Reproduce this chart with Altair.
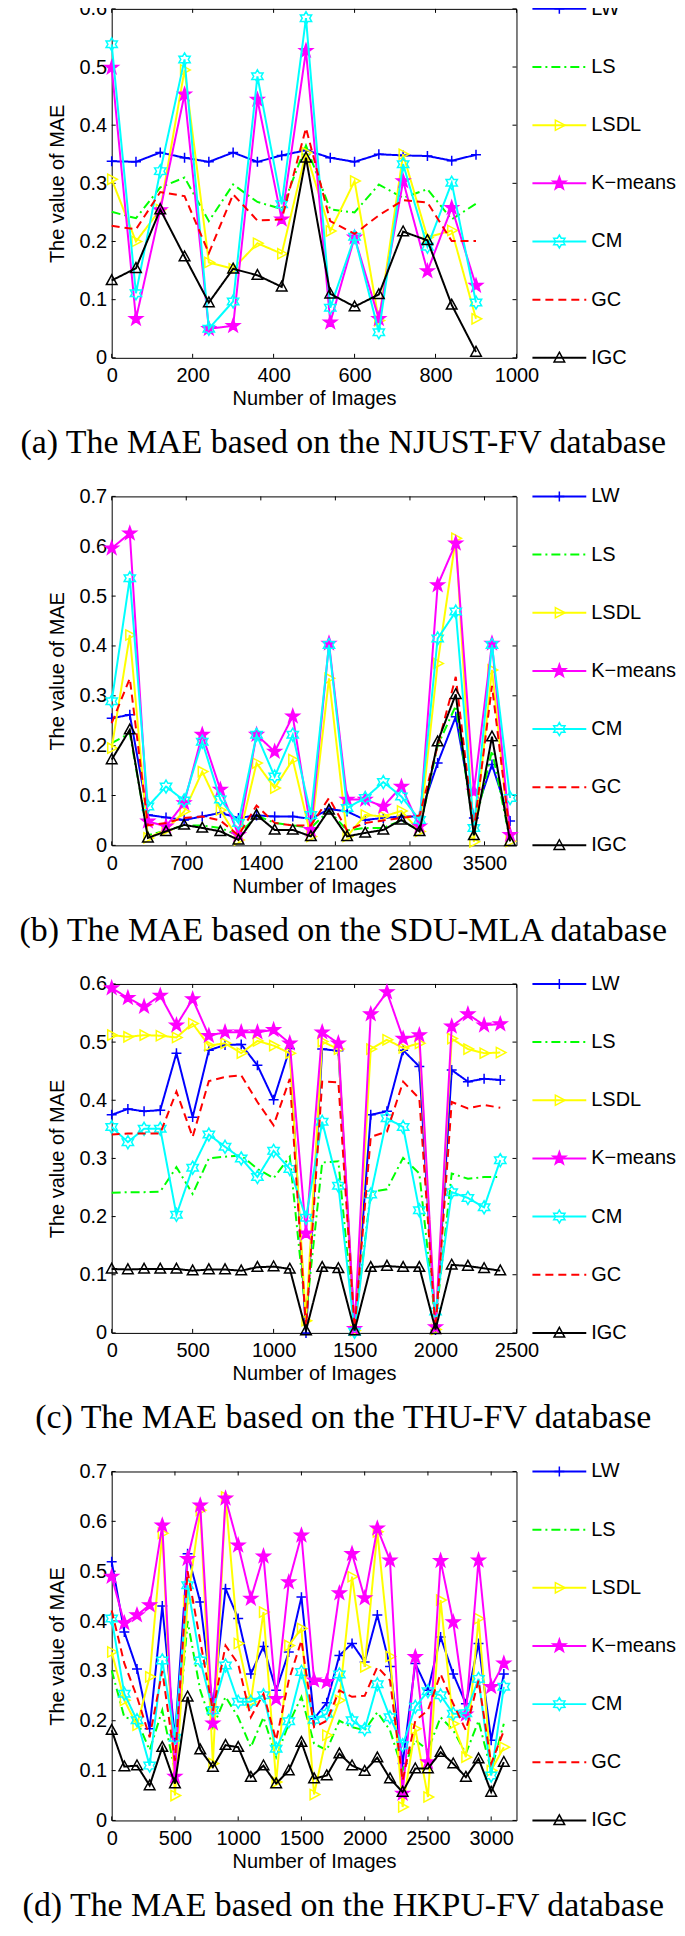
import math
import altair as alt
import pandas as pd

SERIES = ["LW", "LS", "LSDL", "K-means", "CM", "GC", "IGC"]
LEGEND_LABELS = ["LW", "LS", "LSDL", "K\u2212means", "CM", "GC", "IGC"]
COLORS = ["#0000FF", "#00FF00", "#FFFF00", "#FF00FF", "#00FFFF", "#FF0000", "#000000"]
DASHES = [[1, 0], [9, 4, 2, 4], [1, 0], [1, 0], [1, 0], [8, 5], [1, 0]]
FILLS = ["transparent", "transparent", "transparent", "#FF00FF", "transparent", "transparent", "transparent"]
HAS_MARKER = [True, False, True, True, True, False, True]
MSIZE = [100, 40, 130, 190, 170, 40, 140]


def star_path(n, r_in):
    pts = []
    for k in range(2 * n):
        r = 1.0 if k % 2 == 0 else r_in
        a = -math.pi / 2 + k * math.pi / n
        pts.append((r * math.cos(a), r * math.sin(a)))
    return "M" + "L".join(f"{x:.3f},{y:.3f}" for x, y in pts) + "Z"


PLUS = "M-1,0H1M0,-1V1"
TRI_RIGHT = "M-0.7,-0.9L1,0L-0.7,0.9Z"
TRI_UP = "M0,-0.95L0.9,0.7L-0.9,0.7Z"
SHAPES = [PLUS, "circle", TRI_RIGHT, star_path(5, 0.40), star_path(6, 0.58), "circle", TRI_UP]

# ---------------- panel (a) NJUST-FV ----------------
A_X = [0, 60, 120, 180, 240, 300, 360, 420, 480, 540, 600, 660, 720, 780, 840, 900]
A_LW = [0.338, 0.337, 0.353, 0.344, 0.337, 0.353, 0.337, 0.348, 0.357, 0.344, 0.337, 0.350, 0.348, 0.347, 0.339, 0.349]
A_LS = [0.251, 0.240, 0.293, 0.310, 0.235, 0.298, 0.268, 0.256, 0.365, 0.255, 0.250, 0.298, 0.275, 0.290, 0.238, 0.265]
A_LSDL = [0.307, 0.200, 0.255, 0.495, 0.164, 0.153, 0.197, 0.179, 0.353, 0.218, 0.304, 0.064, 0.350, 0.207, 0.219, 0.067]
A_KM = [0.499, 0.067, 0.254, 0.453, 0.050, 0.055, 0.444, 0.238, 0.528, 0.061, 0.207, 0.067, 0.304, 0.149, 0.258, 0.124]
A_CM = [0.539, 0.111, 0.321, 0.513, 0.050, 0.097, 0.484, 0.264, 0.584, 0.086, 0.208, 0.044, 0.333, 0.191, 0.301, 0.095]
A_GC = [0.227, 0.221, 0.285, 0.278, 0.180, 0.281, 0.236, 0.238, 0.395, 0.235, 0.213, 0.245, 0.271, 0.267, 0.201, 0.201]
A_IGC = [0.133, 0.154, 0.255, 0.174, 0.095, 0.153, 0.142, 0.122, 0.344, 0.110, 0.088, 0.109, 0.217, 0.202, 0.091, 0.010]
A_XTICKS = [0, 200, 400, 600, 800, 1000]
A_YTICKS = [0, 0.1, 0.2, 0.3, 0.4, 0.5, 0.6]

# ---------------- panel (b) SDU-MLA ----------------
B_X = [0, 170, 340, 510, 680, 850, 1020, 1190, 1360, 1530, 1700, 1870, 2040, 2210, 2380, 2550,
       2720, 2890, 3060, 3230, 3400, 3570, 3740]
B_LW = [0.255, 0.262, 0.061, 0.056, 0.051, 0.058, 0.065, 0.055, 0.060, 0.058, 0.058, 0.053, 0.073, 0.068,
        0.051, 0.055, 0.058, 0.058, 0.165, 0.258, 0.055, 0.162, 0.049]
B_LS = [0.205, 0.225, 0.020, 0.030, 0.040, 0.040, 0.035, 0.020, 0.060, 0.045, 0.040, 0.035, 0.070, 0.030,
        0.035, 0.035, 0.050, 0.030, 0.200, 0.280, 0.030, 0.190, 0.010]
B_LSDL = [0.195, 0.422, 0.015, 0.031, 0.068, 0.148, 0.071, 0.011, 0.165, 0.115, 0.172, 0.018, 0.335, 0.018,
          0.061, 0.058, 0.069, 0.028, 0.365, 0.616, 0.007, 0.352, 0.008]
B_KM = [0.596, 0.626, 0.048, 0.038, 0.085, 0.222, 0.112, 0.021, 0.222, 0.188, 0.259, 0.031, 0.405, 0.092,
        0.092, 0.078, 0.118, 0.038, 0.522, 0.606, 0.108, 0.405, 0.021]
B_CM = [0.289, 0.536, 0.078, 0.118, 0.090, 0.208, 0.092, 0.045, 0.222, 0.138, 0.222, 0.061, 0.402, 0.075,
        0.095, 0.127, 0.098, 0.051, 0.415, 0.469, 0.035, 0.402, 0.095]
B_GC = [0.245, 0.335, 0.040, 0.045, 0.055, 0.058, 0.050, 0.020, 0.080, 0.045, 0.040, 0.040, 0.095, 0.030,
        0.045, 0.050, 0.055, 0.060, 0.200, 0.338, 0.030, 0.320, 0.020]
B_IGC = [0.172, 0.232, 0.015, 0.028, 0.041, 0.035, 0.028, 0.011, 0.061, 0.031, 0.031, 0.018, 0.071, 0.018,
         0.025, 0.031, 0.051, 0.028, 0.208, 0.303, 0.020, 0.218, 0.008]
B_XTICKS = [0, 700, 1400, 2100, 2800, 3500]
B_YTICKS = [0, 0.1, 0.2, 0.3, 0.4, 0.5, 0.6, 0.7]

# ---------------- panel (c) THU-FV ----------------
C_X = [0, 100, 200, 300, 400, 500, 600, 700, 800, 900, 1000, 1100, 1200, 1300, 1400, 1500, 1600,
       1700, 1800, 1900, 2000, 2100, 2200, 2300, 2400]
C_LW = [0.375, 0.385, 0.381, 0.383, 0.481, 0.371, 0.486, 0.495, 0.496, 0.460, 0.401, 0.489, 0.000, 0.488,
        0.485, 0.004, 0.375, 0.381, 0.486, 0.458, 0.005, 0.452, 0.432, 0.437, 0.435]
C_LS = [0.241, 0.242, 0.242, 0.243, 0.285, 0.239, 0.300, 0.303, 0.305, 0.282, 0.266, 0.303, 0.030, 0.293,
        0.295, 0.007, 0.242, 0.247, 0.301, 0.274, 0.018, 0.274, 0.265, 0.268, 0.268]
C_LSDL = [0.512, 0.509, 0.512, 0.511, 0.508, 0.532, 0.494, 0.498, 0.481, 0.502, 0.494, 0.481, 0.021, 0.501,
          0.488, 0.004, 0.488, 0.504, 0.490, 0.498, 0.006, 0.506, 0.488, 0.481, 0.482]
C_KM = [0.593, 0.576, 0.561, 0.580, 0.529, 0.574, 0.511, 0.517, 0.517, 0.517, 0.521, 0.498, 0.171, 0.517,
        0.498, 0.007, 0.548, 0.586, 0.506, 0.512, 0.010, 0.527, 0.548, 0.529, 0.531]
C_CM = [0.354, 0.328, 0.351, 0.351, 0.203, 0.284, 0.341, 0.320, 0.300, 0.268, 0.313, 0.282, 0.198, 0.363,
        0.253, 0.002, 0.238, 0.369, 0.354, 0.211, 0.037, 0.242, 0.232, 0.216, 0.297]
C_GC = [0.341, 0.343, 0.343, 0.343, 0.415, 0.337, 0.433, 0.440, 0.443, 0.397, 0.357, 0.437, 0.010, 0.432,
        0.431, 0.007, 0.337, 0.346, 0.432, 0.403, 0.007, 0.397, 0.386, 0.392, 0.387]
C_IGC = [0.110, 0.109, 0.110, 0.110, 0.110, 0.107, 0.109, 0.109, 0.107, 0.113, 0.114, 0.110, 0.004, 0.113,
         0.111, 0.004, 0.113, 0.115, 0.113, 0.113, 0.006, 0.117, 0.115, 0.111, 0.107]
C_XTICKS = [0, 500, 1000, 1500, 2000, 2500]
C_YTICKS = [0, 0.1, 0.2, 0.3, 0.4, 0.5, 0.6]

# ---------------- panel (d) HKPU-FV ----------------
D_X = [0, 100, 200, 300, 400, 500, 600, 700, 800, 900, 1000, 1100, 1200, 1300, 1400, 1500, 1600,
       1700, 1800, 1900, 2000, 2100, 2200, 2300, 2400, 2500, 2600, 2700, 2800, 2900, 3000, 3100]
D_LW = [0.519, 0.378, 0.304, 0.184, 0.430, 0.165, 0.535, 0.438, 0.228, 0.465, 0.405, 0.294, 0.349, 0.261,
        0.338, 0.448, 0.204, 0.236, 0.331, 0.355, 0.318, 0.412, 0.309, 0.114, 0.315, 0.261, 0.368, 0.294,
        0.234, 0.355, 0.161, 0.294]
D_LS = [0.301, 0.207, 0.201, 0.141, 0.221, 0.100, 0.400, 0.261, 0.187, 0.248, 0.207, 0.147, 0.207, 0.127,
        0.194, 0.248, 0.154, 0.141, 0.200, 0.187, 0.181, 0.217, 0.181, 0.100, 0.161, 0.141, 0.207, 0.181,
        0.134, 0.200, 0.100, 0.194]
D_LSDL = [0.338, 0.241, 0.191, 0.288, 0.576, 0.050, 0.440, 0.622, 0.114, 0.649, 0.355, 0.238, 0.418, 0.077,
          0.351, 0.385, 0.052, 0.171, 0.241, 0.489, 0.308, 0.579, 0.329, 0.027, 0.184, 0.047, 0.442, 0.194,
          0.127, 0.405, 0.100, 0.147]
D_KM = [0.489, 0.396, 0.412, 0.432, 0.592, 0.088, 0.525, 0.632, 0.195, 0.646, 0.552, 0.445, 0.530, 0.244,
        0.478, 0.572, 0.281, 0.278, 0.456, 0.535, 0.446, 0.586, 0.522, 0.054, 0.328, 0.117, 0.521, 0.398,
        0.213, 0.522, 0.268, 0.315]
D_CM = [0.405, 0.254, 0.201, 0.110, 0.321, 0.166, 0.472, 0.321, 0.221, 0.311, 0.238, 0.238, 0.251, 0.144,
        0.199, 0.298, 0.202, 0.214, 0.293, 0.201, 0.183, 0.273, 0.207, 0.151, 0.228, 0.259, 0.251, 0.214,
        0.215, 0.284, 0.090, 0.268]
D_GC = [0.421, 0.315, 0.248, 0.167, 0.300, 0.120, 0.500, 0.360, 0.220, 0.351, 0.314, 0.207, 0.254, 0.161,
        0.281, 0.361, 0.187, 0.200, 0.261, 0.248, 0.250, 0.308, 0.281, 0.080, 0.200, 0.221, 0.294, 0.234,
        0.181, 0.281, 0.114, 0.180]
D_IGC = [0.181, 0.108, 0.110, 0.070, 0.147, 0.074, 0.248, 0.142, 0.107, 0.151, 0.147, 0.087, 0.110, 0.074,
         0.100, 0.157, 0.084, 0.090, 0.134, 0.110, 0.099, 0.126, 0.084, 0.057, 0.104, 0.104, 0.137, 0.114,
         0.087, 0.124, 0.057, 0.117]
D_XTICKS = [0, 500, 1000, 1500, 2000, 2500, 3000]
D_YTICKS = [0, 0.1, 0.2, 0.3, 0.4, 0.5, 0.6, 0.7]

CAPTIONS = [
    "(a) The MAE based on the NJUST-FV database",
    "(b) The MAE based on the SDU-MLA database",
    "(c) The MAE based on the THU-FV database",
    "(d) The MAE based on the HKPU-FV database",
]

PW, PH = 406, 350
TICK = 4
LEFT_EXTENT = 103
SANS = "Liberation Sans"
SERIF = "Liberation Serif"

AXIS_COMMON = dict(
    labelFont=SANS, titleFont=SANS, labelFontSize=20, titleFontSize=20,
    labelColor="black", titleColor="black", titleFontWeight="normal",
    ticks=False, domain=False, grid=False, labelFlush=False, labelOverlap=False,
)


def make_legend():
    ldf = pd.DataFrame({"series": SERIES, "label": LEGEND_LABELS})
    y = alt.Y("series:N", scale=alt.Scale(type="point", domain=SERIES, padding=0), axis=None)
    base = alt.Chart(ldf)
    layers = []
    for s, c, d, f, m, sz, shp in zip(SERIES, COLORS, DASHES, FILLS, HAS_MARKER, MSIZE, SHAPES):
        sub = base.transform_filter(alt.datum.series == s)
        layers.append(sub.mark_rule(color=c, strokeDash=d, strokeWidth=2).encode(
            y=y, x=alt.value(0), x2=alt.value(54)))
        if m:
            layers.append(sub.mark_point(shape=shp, size=sz, color=c, fill=f, filled=False, opacity=1,
                                         strokeWidth=1.5).encode(y=y, x=alt.value(27)))
    layers.append(base.mark_text(align="left", baseline="middle", font=SANS, fontSize=20, color="black").encode(
        y=y, x=alt.value(59), text="label:N"))
    return alt.layer(*layers).properties(width=54, height=PH)


def make_panel(xs, vals, xmax, ymax, xticks, yticks, caption):
    rows = []
    for s, arr in zip(SERIES, vals):
        for x, v in zip(xs, arr):
            rows.append({"x": x, "v": v, "series": s})
    df = pd.DataFrame(rows)
    X = alt.X("x:Q", scale=alt.Scale(domain=[0, xmax], nice=False, zero=False),
              axis=alt.Axis(values=xticks, format="d", title="Number of Images", labelPadding=8,
                            titlePadding=3, **AXIS_COMMON))
    Y = alt.Y("v:Q", scale=alt.Scale(domain=[0, ymax], nice=False, zero=False),
              axis=alt.Axis(values=yticks, format=".1~f", title="The value of MAE", labelPadding=5,
                            titlePadding=12, **AXIS_COMMON))
    xt = pd.DataFrame({"x": xticks})
    yt = pd.DataFrame({"v": yticks})
    layers = [
        # white guide far left so every panel has the same left extent
        alt.Chart(yt).mark_rule(color="white", strokeWidth=1).encode(
            x=alt.value(-LEFT_EXTENT), x2=alt.value(-LEFT_EXTENT + 2), y=alt.value(PH / 2)),
        alt.Chart(xt).mark_rule(color="black", strokeWidth=1).encode(x=X, y=alt.value(PH), y2=alt.value(PH - TICK)),
        alt.Chart(xt).mark_rule(color="black", strokeWidth=1).encode(x=X, y=alt.value(0), y2=alt.value(TICK)),
        alt.Chart(yt).mark_rule(color="black", strokeWidth=1).encode(y=Y, x=alt.value(0), x2=alt.value(TICK)),
        alt.Chart(yt).mark_rule(color="black", strokeWidth=1).encode(y=Y, x=alt.value(PW), x2=alt.value(PW - TICK)),
    ]
    base = alt.Chart(df)
    for s, c, d, f, m, sz, shp in zip(SERIES, COLORS, DASHES, FILLS, HAS_MARKER, MSIZE, SHAPES):
        sub = base.transform_filter(alt.datum.series == s)
        layers.append(sub.mark_line(color=c, strokeDash=d, strokeWidth=2).encode(x=X, y=Y))
        if m:
            layers.append(sub.mark_point(shape=shp, size=sz, color=c, fill=f, filled=False, opacity=1,
                                         strokeWidth=1.5).encode(x=X, y=Y))
    plot = alt.layer(*layers).properties(width=PW, height=PH,
                                         view=alt.ViewBackground(stroke="black", strokeWidth=1))
    return alt.hconcat(plot, make_legend(), spacing=16, bounds="flush").properties(
        title=alt.TitleParams(text=caption, orient="bottom", anchor="middle", font=SERIF, fontSize=34,
                              fontWeight="normal", color="black", offset=17, dx=1)
    )


panels = [
    make_panel(A_X, [A_LW, A_LS, A_LSDL, A_KM, A_CM, A_GC, A_IGC], 1000, 0.6, A_XTICKS, A_YTICKS, CAPTIONS[0]),
    make_panel(B_X, [B_LW, B_LS, B_LSDL, B_KM, B_CM, B_GC, B_IGC], 3800, 0.7, B_XTICKS, B_YTICKS, CAPTIONS[1]),
    make_panel(C_X, [C_LW, C_LS, C_LSDL, C_KM, C_CM, C_GC, C_IGC], 2500, 0.6, C_XTICKS, C_YTICKS, CAPTIONS[2]),
    make_panel(D_X, [D_LW, D_LS, D_LSDL, D_KM, D_CM, D_GC, D_IGC], 3200, 0.7, D_XTICKS, D_YTICKS, CAPTIONS[3]),
]

chart = alt.vconcat(*panels, spacing=25).properties(
    padding={"left": 0, "top": -13, "right": 0, "bottom": -2}
).configure_view(stroke="transparent")

chart.save("out.html", embed_options={"renderer": "svg", "actions": False})
